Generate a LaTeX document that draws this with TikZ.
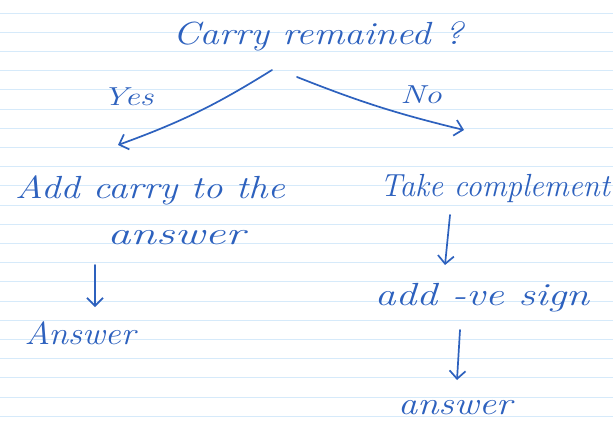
\documentclass[tikz,border=0pt]{standalone}
\usepackage{tikz}
\usetikzlibrary{calc,arrows.meta}
\definecolor{ink}{RGB}{45,97,190}
\definecolor{ruled}{RGB}{214,234,250}
\tikzset{
	hand/.style={text=ink, font=\fontsize{32}{38}\selectfont\itshape, inner sep=2pt, transform shape},
	handsmall/.style={hand, font=\fontsize{26}{30}\selectfont\itshape},
	inkline/.style={draw=ink, line width=1.7pt, line cap=round, line join=round, -{Straight Barb[length=8pt,width=16pt,line width=1.7pt]}},
	paperline/.style={draw=ruled, line width=1pt}
}

\begin{document}
\begin{tikzpicture}[x=1pt,y=1pt]
		%%%%% START %%%%%
		
		\useasboundingbox[fill=white] (0,0) rectangle (613,-431);
		\foreach \k in {0,...,21}
			\draw[paperline] (0,{-13-19.2*\k}) -- (613,{-13-19.2*\k});
		
		\node[hand, xscale=1.2] (carry) at (318,-36) {Carry remained ?};
		\node[handsmall, xscale=1.3] (yes) at (128,-97) {Yes};
		\node[handsmall, xscale=1.3] (no) at (421,-95) {No};
		
		\node[hand, xscale=1.2] (addcarry) at (150,-190) {Add carry to the};
		\node[hand, xscale=1.45] (answerl) at (176,-238) {answer};
		\node[hand, xscale=1.1] (ansleft) at (80,-333) {Answer};
		
		\node[hand, xscale=0.97] (takecomp) at (495,-188) {Take complement};
		\node[hand, xscale=1.3] (addsign) at (482,-298) {add -ve sign};
		\node[hand, xscale=1.2] (ansright) at (455,-408) {answer};
		
		% branches from the question
		\draw[inkline] ($(carry)+(-46,-34)$) to[bend left=6] ($(addcarry)+(-32,45)$);
		\draw[inkline] ($(carry)+(-21,-41)$) to[bend right=4] ($(takecomp)+(-31,58)$);
		
		% downward arrows
		\draw[inkline] ($(answerl)+(-81,-27)$) -- ($(ansleft)+(15,26)$);
		\draw[inkline] ($(takecomp)+(-45,-27)$) -- ($(addsign)+(-37,33)$);
		\draw[inkline] ($(addsign)+(-22,-32)$) -- ($(ansright)+(2,28)$);
		
		%%%%% END %%%%%
	\end{tikzpicture}
\end{document}
